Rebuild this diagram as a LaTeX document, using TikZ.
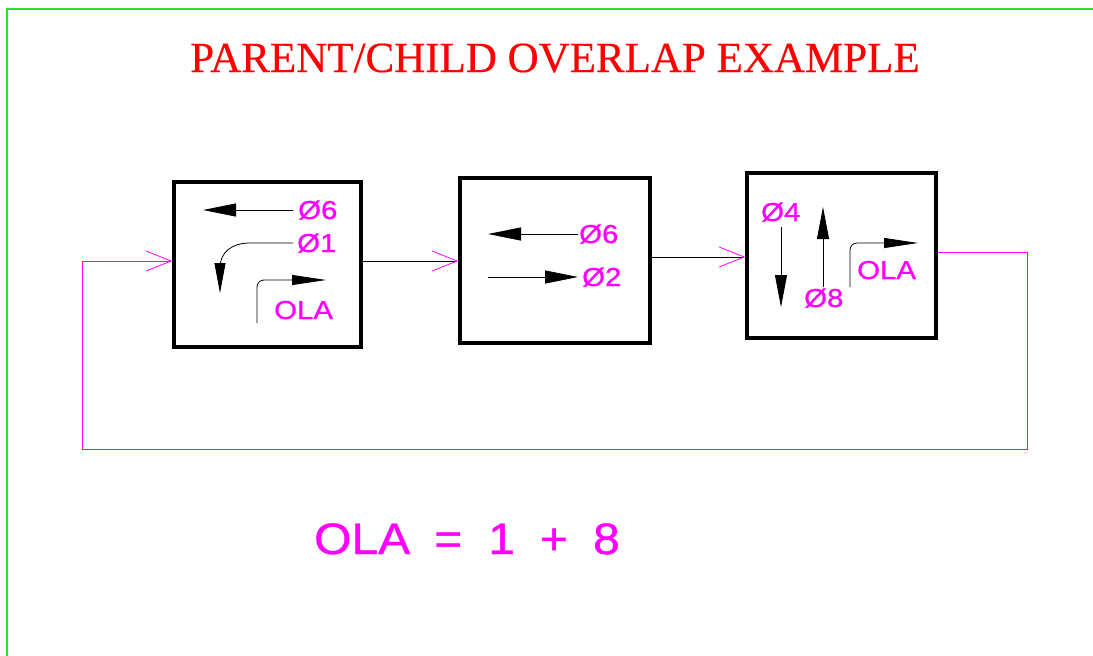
\documentclass[tikz,border=0pt]{standalone}
\usepackage{fontspec}
\setmainfont{Liberation Serif}
\setsansfont{Liberation Sans}
\newfontfamily\cadfont[FakeBold=0.8]{Liberation Sans}
\newfontfamily\titlefont[FakeBold=0.4]{Liberation Serif}
\usetikzlibrary{arrows.meta}
\definecolor{pinkc}{RGB}{255,0,255}
\definecolor{greenc}{RGB}{40,225,40}
\definecolor{redc}{RGB}{255,0,0}
\tikzset{
  blk/.style={draw=black, line width=3.6pt, fill=white, inner sep=0pt},
  lbl/.style={text=pinkc, font=\fontsize{26}{26}\cadfont, inner sep=0pt, anchor=base west},
  thin/.style={line width=0.8pt},
  openarr/.style={-{Straight Barb[length=25pt,width=20pt,line width=0.8pt,color=pinkc]}},
  fillarr/.style={thin,-{Triangle[length=33pt,width=13pt]}},
}
\newcommand{\wide}[1]{\scalebox{1.13}[1]{#1}}
\begin{document}
\begin{tikzpicture}[x=1pt,y=-1pt]
\useasboundingbox (0,0) rectangle (1093,656);
% frame
\draw[greenc, line width=1.5pt] (7,656) -- (7,9) -- (1093,9);
% title
\node[text=redc, font=\fontsize{43}{43}\titlefont, inner sep=0pt, anchor=base] (title) at (555,72) {\scalebox{1.0}[1]{PARENT/CHILD OVERLAP EXAMPLE}};
% boxes
\node[blk, minimum width=187pt, minimum height=165pt] (box1) at (267.5,264.5) {};
\node[blk, minimum width=190pt, minimum height=165pt] (box2) at (555,260.5) {};
\node[blk, minimum width=189pt, minimum height=165pt] (box3) at (841.5,255.5) {};
% connectors
\draw[thin, openarr] (box1.east |- 0,261) -- (box2.west |- 0,261);
\draw[thin, openarr] (box2.east |- 0,257) -- (box3.west |- 0,257);
\coordinate (f1) at (1027,252);
\coordinate (f2) at (1027,449);
\coordinate (f3) at (82,449);
\coordinate (f4) at (82,261);
\draw[thin, pinkc, openarr] (box3.east |- f1) -- (f1) -- (f2) -- (f3) -- (f4) -- (box1.west |- f4);
% box1 contents
\node[lbl] (b1a) at (298,219) {\wide{Ø6}};
\node[lbl] (b1b) at (297,252) {\wide{Ø1}};
\node[lbl] (b1c) at (274,319) {\wide{OLA}};
\coordinate (b1a0) at (203,210);
\draw[fillarr] (b1a.west |- b1a0) ++(-5,0) -- (b1a0);
\coordinate (b1b0) at (220,293);
\draw[thin,-{Triangle[length=30pt,width=11pt]}] (b1b.west |- 0,243) ++(-4,0) -- (250,243) .. controls (232,243) and (220,252) .. (220,268) -- (b1b0);
\coordinate (b1c0) at (257,323);
\coordinate (b1c1) at (326,280);
\draw[thin, rounded corners=7pt, -{Triangle[length=34pt,width=10pt]}] (b1c0) |- (b1c1);
% box2 contents
\node[lbl] (b2a) at (579,243) {\wide{Ø6}};
\node[lbl] (b2b) at (582,286) {\wide{Ø2}};
\coordinate (b2a0) at (488,234);
\coordinate (b2b0) at (488,277);
\draw[fillarr] (b2a.west |- b2a0) ++(-1,0) -- (b2a0);
\draw[fillarr] (b2b0) -- ([xshift=-4pt]b2b.west |- b2b0);
% box3 contents
\node[lbl] (b3a) at (761,221) {\wide{Ø4}};
\node[lbl] (b3b) at (804,307) {\wide{Ø8}};
\node[lbl] (b3c) at (857,279) {\wide{OLA}};
\coordinate (b3a0) at (781,227);
\coordinate (b3a1) at (781,307);
\draw[thin,-{Triangle[length=32pt,width=12pt]}] (b3a0) -- (b3a1);
\coordinate (b3b0) at (823,287);
\coordinate (b3b1) at (823,207);
\draw[thin,-{Triangle[length=32pt,width=12pt]}] (b3b0) -- (b3b1);
\coordinate (b3c0) at (850,287);
\coordinate (b3c1) at (918,243);
\draw[thin, rounded corners=7pt, -{Triangle[length=34pt,width=10pt]}] (b3c0) |- (b3c1);
% formula
\node[text=pinkc, font=\fontsize{44}{44}\cadfont, inner sep=0pt, anchor=base west] (formula) at (314,554) {\scalebox{1.09}[1]{OLA\hspace{22pt}=\hspace{24pt}1\hspace{23pt}+\hspace{23pt}8}};
\end{tikzpicture}
\end{document}
